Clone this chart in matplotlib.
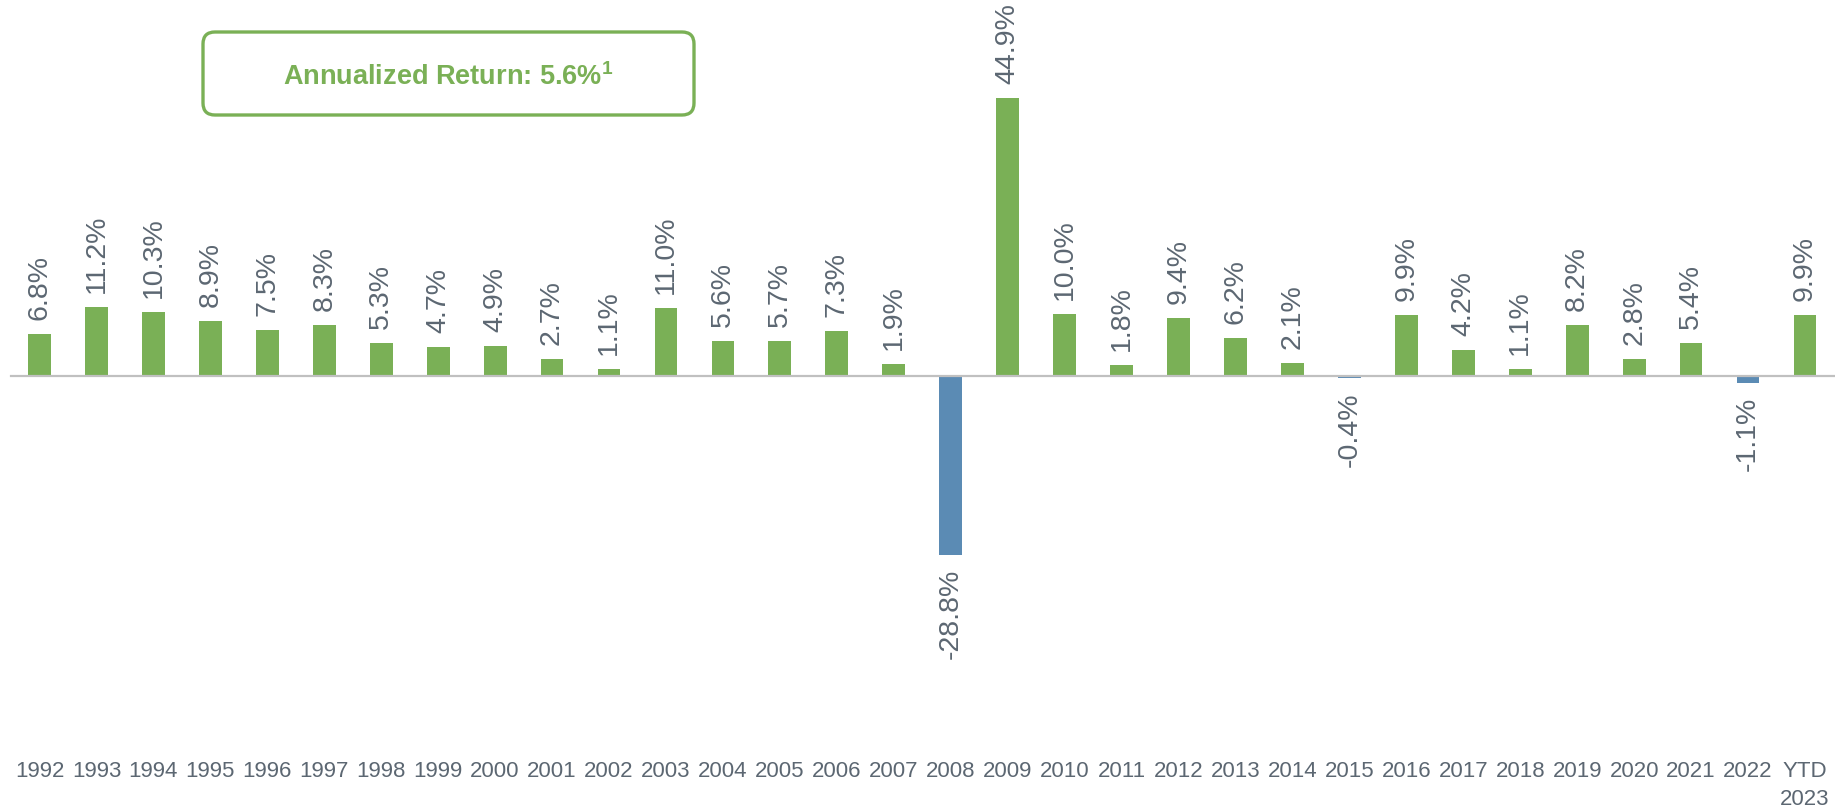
"""
Annual returns bar chart, 1992 - YTD 2023
"""

import matplotlib
matplotlib.use("Agg")
import matplotlib.pyplot as plt
from matplotlib.patches import FancyBboxPatch

years = ["1992", "1993", "1994", "1995", "1996", "1997", "1998", "1999",
         "2000", "2001", "2002", "2003", "2004", "2005", "2006", "2007",
         "2008", "2009", "2010", "2011", "2012", "2013", "2014", "2015",
         "2016", "2017", "2018", "2019", "2020", "2021", "2022", "YTD\n2023"]
returns = [6.8, 11.2, 10.3, 8.9, 7.5, 8.3, 5.3, 4.7,
           4.9, 2.7, 1.1, 11.0, 5.6, 5.7, 7.3, 1.9,
           -28.8, 44.9, 10.0, 1.8, 9.4, 6.2, 2.1, -0.4,
           9.9, 4.2, 1.1, 8.2, 2.8, 5.4, -1.1, 9.9]
callout = "Annualized Return: 5.6%$^{\\mathbf{1}}$"

GREEN = "#7AB056"
BLUE = "#5B8BB4"
TEXT_GREY = "#5C6772"

plt.rcParams["font.family"] = ["Liberation Sans", "DejaVu Sans"]
plt.rcParams["mathtext.fontset"] = "custom"
plt.rcParams["mathtext.rm"] = "Liberation Sans"
plt.rcParams["mathtext.bf"] = "Liberation Sans:bold"

W, H = 1835, 811
fig = plt.figure(figsize=(W / 100, H / 100), dpi=100)
ax = fig.add_axes([0, 51 / H, 1, 1 - 51 / H])

x = list(range(len(years)))
colors = [GREEN if v >= 0 else BLUE for v in returns]
ax.bar(x, returns, width=0.40, color=colors, edgecolor="none", zorder=2)
ax.axhline(0, xmin=11 / W, xmax=1, color="#C0C0C0", linewidth=1.6, zorder=3)

# value labels, rotated
for i, v in enumerate(returns):
    if v >= 0:
        ax.annotate("{:.1f}%".format(v), (i, v), xytext=(0, 10), textcoords="offset points",
                    rotation=90, ha="center", va="bottom", fontsize=20.5, color=TEXT_GREY)
    else:
        ax.annotate("{:.1f}%".format(v), (i, v), xytext=(0, -10), textcoords="offset points",
                    rotation=90, ha="center", va="top", fontsize=20.5, color=TEXT_GREY)

ax.set_xlim(-39.5 / 56.95, 31 + 30 / 56.95)
ax.set_ylim(-(435 - 51) / 6.2, (H - 435) / 6.2)
ax.set_xticks(x)
ax.set_xticklabels(years, fontsize=16, color=TEXT_GREY, linespacing=1.4)
ax.tick_params(axis="x", length=0, pad=1)
ax.set_yticks([])
for s in ax.spines.values():
    s.set_visible(False)

# callout box
box = FancyBboxPatch((2.03, (H - 115) / 100), 4.91, 0.83,
                     boxstyle="round,pad=0,rounding_size=0.12",
                     transform=fig.dpi_scale_trans, facecolor="white",
                     edgecolor=GREEN, linewidth=2.4)
fig.add_artist(box)
fig.text(448 / W, (H - 85) / H, callout, ha="center", va="baseline",
         fontsize=19.5, fontweight="bold", color=GREEN)

fig.savefig("out.png", dpi=100, facecolor="white")
